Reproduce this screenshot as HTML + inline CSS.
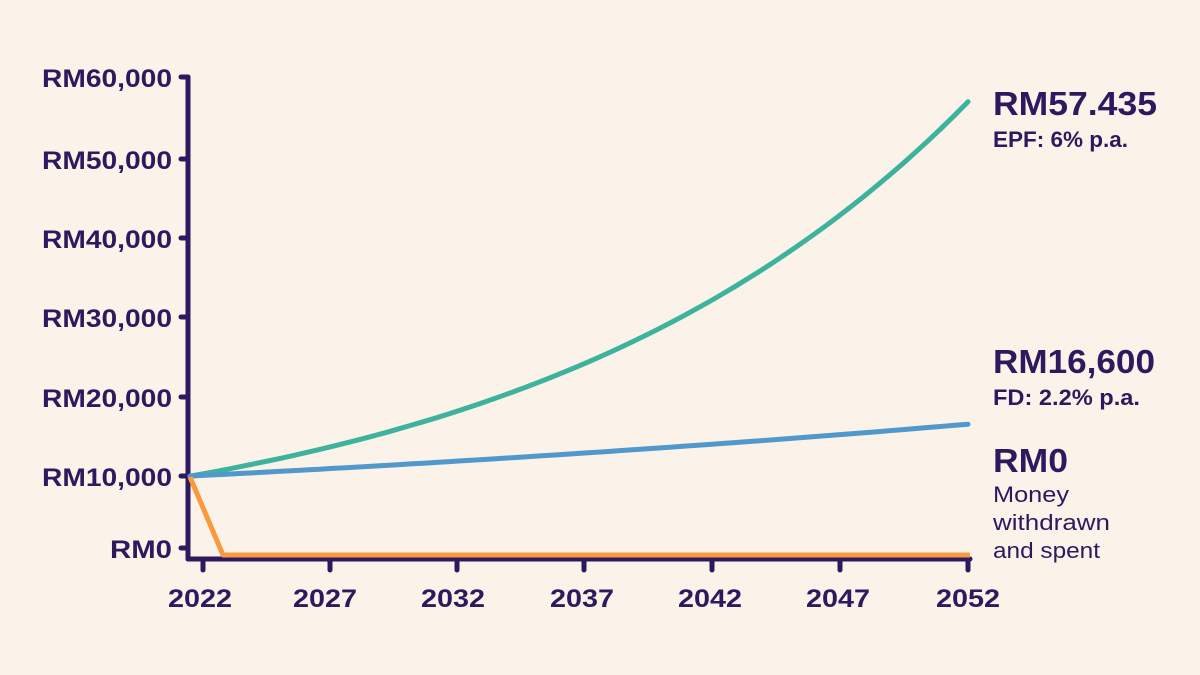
<!DOCTYPE html>
<html><head><meta charset="utf-8"><style>
html,body{margin:0;padding:0;background:#fbf3e9;}
svg{display:block}
text{font-family:"Liberation Sans",sans-serif;fill:#2b1a5e;}
</style></head><body>
<svg id="s" width="1200" height="675" viewBox="0 0 1200 675">
<rect width="1200" height="675" fill="#fbf3e9"/>
<g font-size="25" font-weight="bold">
<text x="42" y="87" textLength="130" lengthAdjust="spacingAndGlyphs">RM60,000</text>
<text x="42" y="169" textLength="130" lengthAdjust="spacingAndGlyphs">RM50,000</text>
<text x="42" y="248" textLength="130" lengthAdjust="spacingAndGlyphs">RM40,000</text>
<text x="42" y="327" textLength="130" lengthAdjust="spacingAndGlyphs">RM30,000</text>
<text x="42" y="407" textLength="130" lengthAdjust="spacingAndGlyphs">RM20,000</text>
<text x="42" y="486" textLength="130" lengthAdjust="spacingAndGlyphs">RM10,000</text>
<text x="110" y="558" textLength="62" lengthAdjust="spacingAndGlyphs">RM0</text>
</g>
<g stroke="#2b1a5e" stroke-width="5" stroke-linecap="round" fill="none">
<line x1="188" y1="77" x2="188" y2="559"/>
<line x1="188" y1="559" x2="970" y2="559"/>
<line x1="181" y1="77" x2="188" y2="77"/>
<line x1="181" y1="159" x2="188" y2="159"/>
<line x1="181" y1="238" x2="188" y2="238"/>
<line x1="181" y1="317" x2="188" y2="317"/>
<line x1="181" y1="397" x2="188" y2="397"/>
<line x1="181" y1="476" x2="188" y2="476"/>
<line x1="181" y1="548" x2="188" y2="548"/>
<line x1="203" y1="559" x2="203" y2="570"/>
<line x1="330" y1="559" x2="330" y2="570"/>
<line x1="457" y1="559" x2="457" y2="570"/>
<line x1="584" y1="559" x2="584" y2="570"/>
<line x1="712" y1="559" x2="712" y2="570"/>
<line x1="840" y1="559" x2="840" y2="570"/>
<line x1="968" y1="559" x2="968" y2="570"/>
</g>
<g font-size="25" font-weight="bold">
<text x="168" y="607" textLength="64" lengthAdjust="spacingAndGlyphs">2022</text>
<text x="293" y="607" textLength="64" lengthAdjust="spacingAndGlyphs">2027</text>
<text x="421" y="607" textLength="64" lengthAdjust="spacingAndGlyphs">2032</text>
<text x="550" y="607" textLength="64" lengthAdjust="spacingAndGlyphs">2037</text>
<text x="678" y="607" textLength="64" lengthAdjust="spacingAndGlyphs">2042</text>
<text x="806" y="607" textLength="64" lengthAdjust="spacingAndGlyphs">2047</text>
<text x="936" y="607" textLength="64" lengthAdjust="spacingAndGlyphs">2052</text>
</g>
<path id="g" fill="none" stroke="#3db39e" stroke-width="5" stroke-linecap="round"/>
<path id="b" fill="none" stroke="#5198cc" stroke-width="5" stroke-linecap="round"/>
<path d="M190 477 L223 555 L970 555" fill="none" stroke="#f99a3e" stroke-width="5" stroke-linejoin="round"/>
<text x="993" y="115" font-size="33" font-weight="bold" textLength="164" lengthAdjust="spacingAndGlyphs">RM57.435</text>
<text x="993" y="147" font-size="22" font-weight="bold" textLength="135" lengthAdjust="spacingAndGlyphs">EPF: 6% p.a.</text>
<text x="993" y="373" font-size="33" font-weight="bold" textLength="162" lengthAdjust="spacingAndGlyphs">RM16,600</text>
<text x="993" y="405" font-size="22" font-weight="bold" textLength="147" lengthAdjust="spacingAndGlyphs">FD: 2.2% p.a.</text>
<text x="993" y="472" font-size="33" font-weight="bold" textLength="75" lengthAdjust="spacingAndGlyphs">RM0</text>
<text x="993" y="502" font-size="22" textLength="76" lengthAdjust="spacingAndGlyphs">Money</text>
<text x="993" y="530" font-size="22" textLength="117" lengthAdjust="spacingAndGlyphs">withdrawn</text>
<text x="993" y="558" font-size="22" textLength="107" lengthAdjust="spacingAndGlyphs">and spent</text>
</svg>
<script>
function mk(r){var d="";for(var t=0;t<=30;t+=0.5){var x=190+t*(778/30);var v=10000*Math.pow(r,t);var y=555-v*0.00789;d+=(t?"L":"M")+x.toFixed(1)+" "+y.toFixed(1);}return d;}
document.getElementById("g").setAttribute("d",mk(1.06));
document.getElementById("b").setAttribute("d",mk(1.0170));
</script>
</body></html>
